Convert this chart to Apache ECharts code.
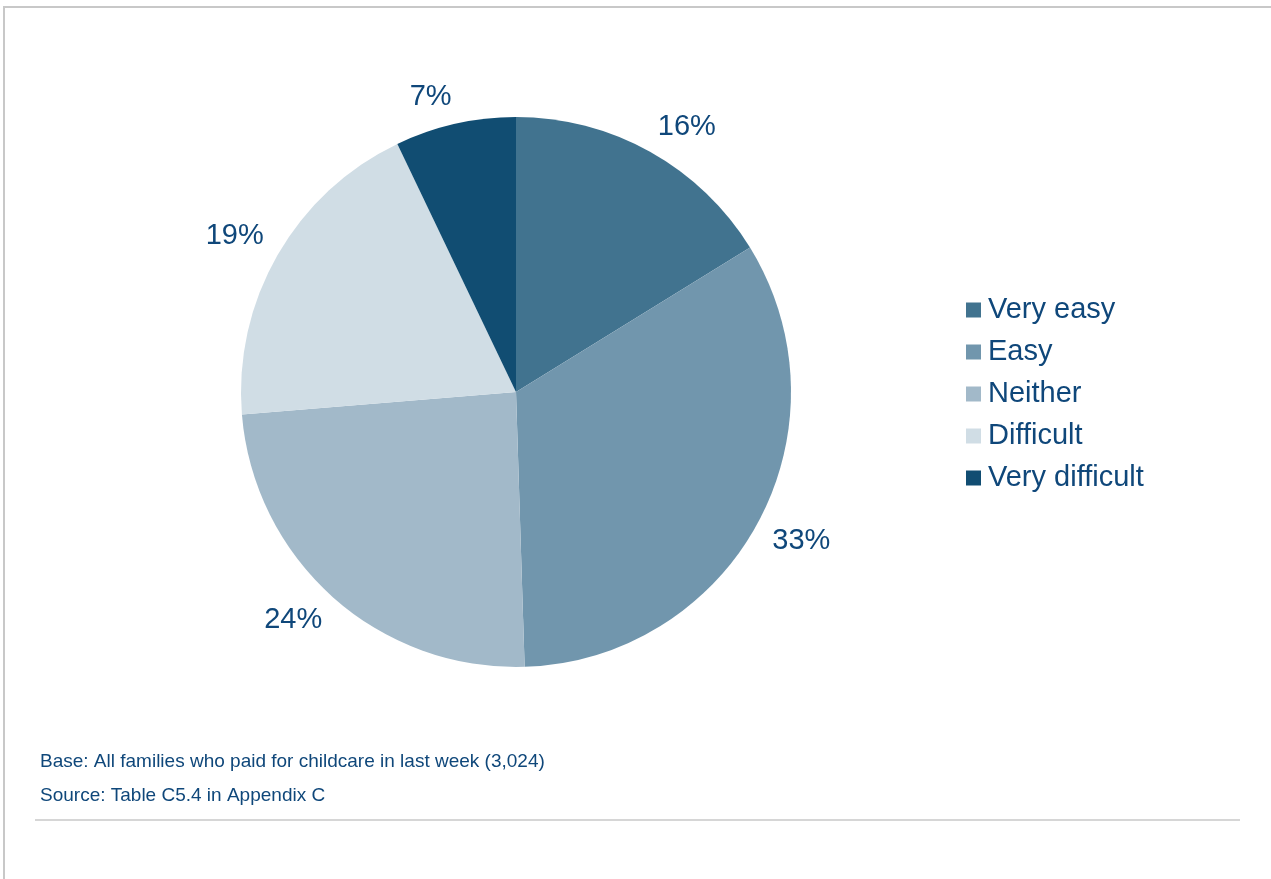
<!DOCTYPE html>
<html><head><meta charset="utf-8">
<script src="https://cdn.jsdelivr.net/npm/echarts@6/dist/echarts.min.js"></script>
<style>html,body{margin:0;padding:0;background:#fff}#c{width:1271px;height:879px}</style>
</head><body><div id="c"></div>
<script>
const categories = ['Very easy', 'Easy', 'Neither', 'Difficult', 'Very difficult'];
const values = [16.2, 33.3, 24.2, 19.2, 7.1];
const colors = ['#41738F', '#7196AD', '#A2B9C9', '#D0DDE5', '#114D72'];
const baseNote = 'Base: All families who paid for childcare in last week (3,024)';
const sourceNote = 'Source: Table C5.4 in Appendix C';

const textColor = '#0F477A';
const font = 'Liberation Sans, Arial, sans-serif';
const CX = 516, CY = 392, R = 275, GAP = 16, HALF_H = 11;
const data = categories.map((n, i) => ({ name: n, value: values[i], itemStyle: { color: colors[i] } }));

const chart = echarts.init(document.getElementById('c'));
chart.setOption({
  animation: false,
  textStyle: { fontFamily: font },
  legend: {
    orient: 'vertical', left: 961, top: 289,
    itemWidth: 15, itemHeight: 15, itemGap: 10,
    icon: 'rect',
    textStyle: { color: textColor, fontSize: 29, fontFamily: font, lineHeight: 32, padding: [0, 0, 0, 2] },
    data: categories
  },
  series: [
    {
      type: 'pie', center: [CX, CY], radius: [0, R],
      startAngle: 90, clockwise: true,
      label: {
        show: true, position: 'inside', color: textColor, fontSize: 29, fontFamily: font,
        formatter: p => Math.round(p.value) + '%'
      },
      labelLine: { show: false },
      labelLayout: function (p) {
        const r = p.labelRect;
        const lx = r.x + r.width / 2, ly = r.y + r.height / 2;
        let dx = lx - CX, dy = ly - CY;
        const d = Math.sqrt(dx * dx + dy * dy) || 1;
        dx /= d; dy /= d;
        const ax = CX + dx * (R + GAP), ay = CY + dy * (R + GAP);
        return { x: ax + Math.sign(dx) * r.width / 2, y: ay + Math.sign(dy) * HALF_H };
      },
      emphasis: { disabled: true },
      data: data
    }
  ],
  graphic: [
    { type: 'rect', shape: { x: 4, y: 7, width: 1300, height: 900 }, style: { fill: 'none', stroke: '#C8C8C8', lineWidth: 2 }, silent: true },
    { type: 'line', shape: { x1: 35, y1: 820, x2: 1240, y2: 820 }, style: { stroke: '#C8C8C8', lineWidth: 1.5 }, silent: true },
    { type: 'text', x: 40, y: 762, style: { text: baseNote, fill: textColor, font: '19px ' + font, verticalAlign: 'middle' } },
    { type: 'text', x: 40, y: 796, style: { text: sourceNote, fill: textColor, font: '19px ' + font, verticalAlign: 'middle' } }
  ]
});
</script></body></html>
